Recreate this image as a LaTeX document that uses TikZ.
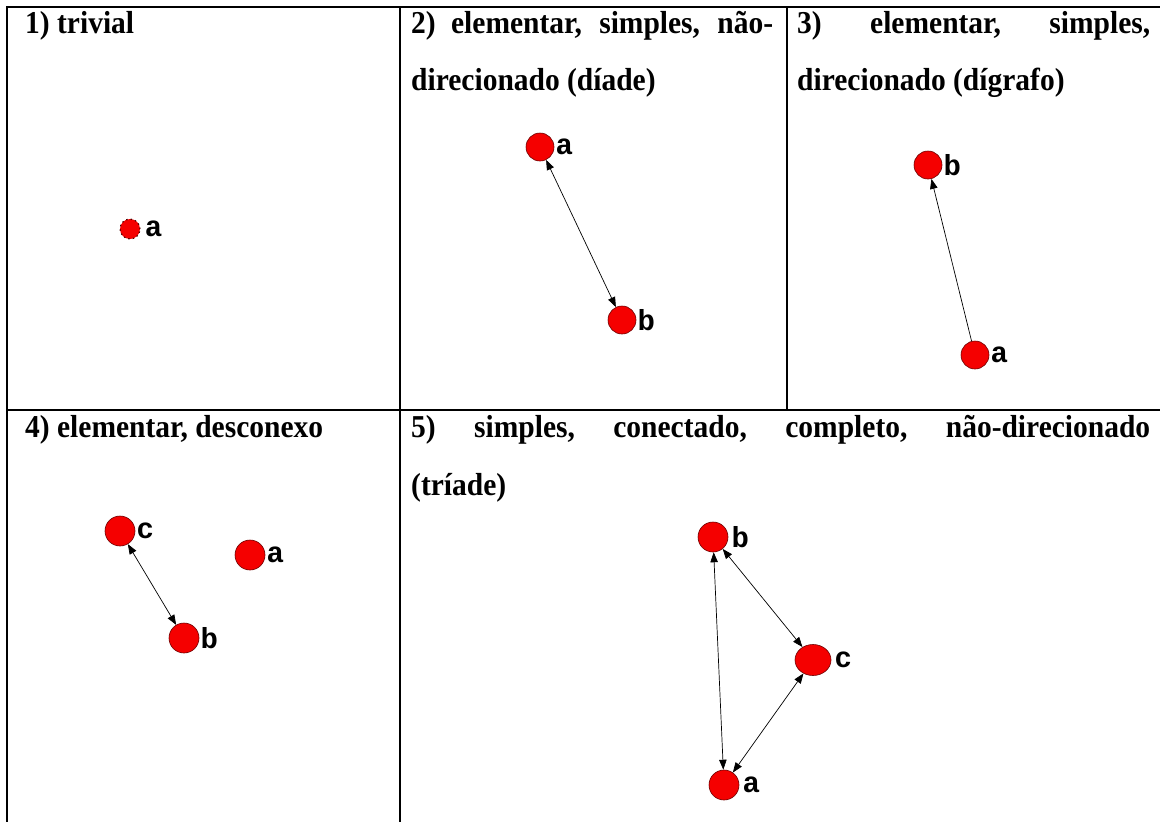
\documentclass[tikz,border=0pt]{standalone}
\usepackage{fontspec}
\usepackage{graphicx}
\setmainfont{Liberation Serif}
\newfontfamily\lblfont{Liberation Mono}
\usetikzlibrary{arrows.meta,shapes.geometric}
\definecolor{nodered}{RGB}{245,0,0}
\definecolor{nodeedge}{RGB}{110,0,0}
\newcommand{\hd}[1]{\scalebox{1}[1.08]{#1}}
\begin{document}
\begin{tikzpicture}[x=1pt,y=-1pt,
  vtx/.style={circle,fill=nodered,draw=nodeedge,line width=0.6pt,minimum size=28pt,inner sep=0pt},
  bigvtx/.style={vtx,minimum size=30pt},
  smallvtx/.style={circle,fill=nodered,draw=nodeedge!70!black,line width=1.1pt,dash pattern=on 1.5pt off 3pt,minimum size=20pt,inner sep=0pt},
  lbl/.style={font=\lblfont\bfseries\fontsize{29}{29}\selectfont,inner sep=0pt},
  head/.style={font=\bfseries\fontsize{29.5}{29.5}\selectfont,anchor=base west,inner sep=0pt},
  biedge/.style={line width=0.7pt,{Triangle[length=10pt,width=7.5pt]}-{Triangle[length=10pt,width=7.5pt]}},
  diedge/.style={line width=0.7pt,-{Triangle[length=10pt,width=7.5pt]}},
  tablerule/.style={line width=2pt}]
\useasboundingbox (0,0) rectangle (1160,822);
\fill[white] (0,0) rectangle (1160,822);
% table rules
\draw[tablerule] (1160,7) -- (7,7) -- (7,822);
\draw[tablerule] (400,7) -- (400,822);
\draw[tablerule] (787,7) -- (787,410);
\draw[tablerule] (7,410) -- (1160,410);
% headings
\node[head] (h1) at (25,33) {\hd{1) trivial}};
\node[head] (h2a) at (411,33) {\hd{\makebox[362pt][s]{2) elementar, simples, não-}}};
\node[head] (h2b) at (411,90) {\hd{direcionado (díade)}};
\node[head] (h3a) at (797,33) {\hd{\makebox[353pt][s]{3)\hfill elementar,\hfill simples,}}};
\node[head] (h3b) at (797,90) {\hd{direcionado (dígrafo)}};
\node[head] (h4) at (25,437) {\hd{4) elementar, desconexo}};
\node[head] (h5a) at (411,437) {\hd{\makebox[739pt][s]{5)\hfill simples,\hfill conectado,\hfill completo,\hfill não-direcionado}}};
\node[head] (h5b) at (411,495) {\hd{(tríade)}};
% cell 1
\node[smallvtx,label={[lbl,label distance=4pt]right:a}] (a1) at (130,229) {};
% cell 2
\node[vtx,label={[lbl,label distance=1pt]right:a}] (a2) at (540,147) {};
\node[vtx,label={[lbl,label distance=1pt]right:b}] (b2) at (622,320) {};
\draw[biedge] (a2) -- (b2);
% cell 3
\node[vtx,label={[lbl,label distance=1pt]right:b}] (b3) at (928,165) {};
\node[vtx,label={[lbl,label distance=1pt]right:a}] (a3) at (975,355) {};
\draw[diedge] (a3) -- (b3);
% cell 4
\node[bigvtx,label={[lbl,label distance=1pt]right:c}] (c4) at (120,531) {};
\node[bigvtx,label={[lbl,label distance=1pt]right:a}] (a4) at (250,555) {};
\node[bigvtx,label={[lbl,label distance=1pt]right:b}] (b4) at (184,638) {};
\draw[biedge] (c4) -- (b4);
% cell 5
\node[bigvtx,label={[lbl,label distance=3pt]right:b}] (b5) at (713,537) {};
\node[bigvtx,ellipse,minimum width=36pt,minimum height=31pt,label={[lbl,label distance=3pt]right:c}] (c5) at (813,660) {};
\node[bigvtx,label={[lbl,label distance=3pt]right:a}] (a5) at (724,785) {};
\draw[biedge] (b5) -- (a5);
\draw[biedge] (b5) -- (c5);
\draw[biedge] (c5) -- (a5);
\end{tikzpicture}
\end{document}
